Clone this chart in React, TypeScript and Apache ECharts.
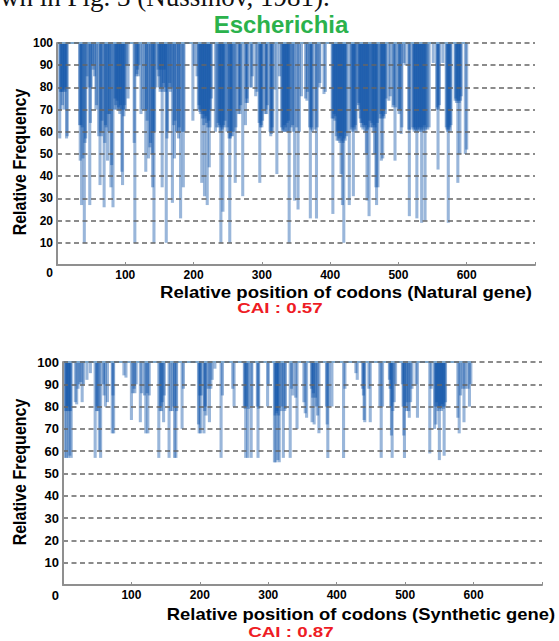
import React, { useEffect, useRef } from 'react';
import * as echarts from 'echarts';

// [codon position, relative frequency] for codons below 100 (natural gene)
const naturalCodons: [number, number][] = [
  [4,57],[5,78],[6,70],[7,78],[8,72],[9,78],[10,79],[11,70],[12,78],[13,80],[14,57],[15,58],
  [33,63],[34,47],[35,63],[36,27],[37,62],[38,48],
  [40,10],[41,55],[42,57],[44,85],[46,80],
  [48,27],[49,64],[50,80],[52,90],[53,88],[55,85],[57,70],[58,72],
  [61,58],[63,36],[64,60],[65,58],[66,65],
  [69,26],[70,55],[71,63],[72,62],[74,47],[75,68],[76,60],[77,68],
  [79,35],[80,45],[82,26],[84,70],
  [85,75],[86,72],[87,70],[88,74],[89,70],[90,71],[91,70],[92,68],[93,72],[94,70],[95,42],[96,36],[97,70],[98,67],[99,72],[100,70],
  [102,90],[104,75],
  [113,55],[114,10],[116,85],[117,86],[118,88],[119,85],[120,90],
  [123,68],[125,70],[128,70],[130,42],[131,70],[132,65],
  [134,48],[136,53],[137,55],[139,50],[140,35],[141,60],[142,10],[143,60],[145,80],
  [148,88],[149,85],[150,80],[151,78],[152,88],[153,80],[154,35],[155,78],[156,82],[157,88],[158,80],[159,78],
  [160,10],[161,57],[162,60],[164,80],[165,82],[166,78],[168,80],[169,28],
  [171,63],[172,48],[173,65],[175,60],[177,60],[178,57],[179,62],
  [181,21],[183,60],[185,35],[186,60],
  [199,65],[201,90],[205,85],[207,70],
  [208,72],[209,69],[210,68],[211,70],[212,37],[213,66],[214,68],[215,63],[216,31],[217,66],[218,67],[219,64],[220,27],[221,62],[222,65],[223,44],[224,62],[225,70],[226,75],
  [232,60],[234,62],
  [236,64],[237,62],[238,63],[239,60],[240,10],[241,62],[242,61],[243,24],[244,63],[245,62],[246,65],
  [249,60],[250,62],[252,57],[253,10],[254,57],[255,58],[256,60],[257,58],
  [259,60],[261,37],[262,62],
  [266,68],[267,70],[268,68],[269,72],[272,31],
  [276,63],[277,73],[278,75],[279,73],
  [283,80],[285,80],[286,85],[291,76],[293,78],
  [296,64],[297,37],[298,62],[299,63],[300,62],[301,65],
  [305,68],[306,70],[307,68],[308,72],
  [312,60],[313,58],[314,59],[315,62],[316,60],[319,79],[322,41],
  [326,85],[329,62],[330,60],[331,61],[332,60],[333,63],[334,60],[335,62],[336,60],[337,64],[338,60],[339,65],[340,10],[341,60],
  [343,62],[345,63],[346,60],[348,29],[351,62],[353,25],[355,60],[358,76],
  [364,75],[366,74],[367,78],
  [370,62],[371,21],[372,61],[373,62],[374,60],
  [378,61],[380,21],[381,62],[384,80],[385,82],
  [391,77],[393,78],
  [403,66],[404,23],[405,66],[406,68],[407,65],[408,67],
  [409,58],[410,56],[411,60],[412,56],[413,57],[414,55],[415,58],[416,41],[417,56],[418,27],[419,55],[420,10],[421,57],[422,56],[423,60],[424,58],
  [428,27],
  [431,61],[432,62],[433,60],[434,31],[435,62],[436,61],[437,63],[438,60],
  [441,72],[442,73],[443,70],
  [444,66],[445,64],[446,62],[447,64],[448,61],[449,63],[450,62],[451,60],[452,63],[453,50],[454,29],[455,61],[456,62],[457,22],[458,65],
  [460,62],[461,64],[462,62],[463,60],[464,63],[465,50],[466,62],[467,35],[468,27],[469,64],[470,35],
  [473,66],[474,68],[475,47],[476,66],[477,48],[478,67],[479,66],[480,70],[481,68],[482,75],
  [486,74],[488,76],
  [492,71],[493,72],[495,47],[496,71],
  [500,70],[501,68],[502,70],[504,59],[505,62],
  [508,91],[510,90],
  [515,61],[516,22],[517,61],
  [521,62],[522,61],[523,60],[524,62],[525,61],[526,60],[527,21],[528,61],[529,62],[530,60],[531,61],[532,62],[533,60],[534,19],[535,61],[536,62],[537,60],[538,63],[539,20],[540,61],[541,62],
  [543,61],[545,62],[551,91],
  [556,70],[557,71],[558,43],[559,70],[560,72],
  [565,91],
  [570,62],[571,61],[572,60],[573,19],[574,61],[575,62],[576,60],[577,63],
  [583,74],[584,75],[585,73],[586,74],[587,37],[588,74],[589,73],[590,50],[591,74],[592,76],
  [598,50],[600,52],
];

// [codon position, relative frequency] for codons below 100 (synthetic gene)
const syntheticCodons: [number, number][] = [
  [3,57],[4,78],[5,57],[6,78],[7,80],[8,57],[9,78],[10,58],[11,78],[12,57],
  [18,82],[20,81],[22,88],[24,90],[26,91],[28,82],[30,90],[35,92],[40,95],
  [47,57],[49,78],[50,80],[51,78],[53,60],[55,57],
  [59,90],[60,85],[62,80],[65,82],
  [72,68],[73,85],[74,68],
  [89,94],[92,93],
  [100,74],[102,86],[104,88],[105,86],[107,90],
  [113,73],[115,86],[119,85],[121,68],[123,86],[124,68],[126,85],
  [140,57],[142,78],[143,80],[144,78],[145,82],[147,73],[148,85],
  [155,57],[157,78],[160,78],[162,80],[163,57],[165,57],[166,78],
  [174,70],[176,88],
  [198,72],[199,68],[200,85],[201,68],[202,85],[206,68],[207,78],[208,80],[209,76],
  [212,88],[214,73],[216,88],[218,92],[222,97],
  [231,57],[233,85],[248,88],[250,80],
  [265,80],[266,79],[267,57],[268,80],[270,57],[271,79],[275,57],[276,80],
  [284,80],[285,57],[286,79],
  [299,80],[300,90],
  [309,55],[310,76],[311,55],[312,77],[313,78],[314,56],[315,76],[316,55],
  [319,78],[320,80],[322,57],[324,78],[325,79],
  [332,57],[334,88],[336,85],[340,84],[342,70],
  [352,82],[354,77],[356,75],
  [363,88],[364,73],[365,84],[366,86],[367,72],[369,84],[370,80],[372,76],[374,68],
  [385,80],[386,72],[387,57],[389,80],[393,80],
  [410,57],[412,88],[428,95],[430,92],
  [438,88],[439,85],[440,74],[441,73],[447,88],[449,73],
  [463,80],[465,57],[467,80],
  [477,92],[478,88],[479,80],[480,67],[481,57],[482,78],[484,82],[486,90],
  [496,90],[497,80],[498,67],[499,57],[500,80],[502,78],[503,82],[505,78],[506,75],[508,82],[510,88],
  [516,90],[518,75],[536,59],[538,88],
  [543,70],[544,80],[545,72],[546,82],[547,80],[548,78],[549,80],[550,56],[551,79],[552,80],[553,78],[554,81],[555,80],[556,79],[557,58],[558,80],[559,82],
  [577,75],[579,68],[581,85],[584,88],[586,73],[588,88],[592,88],[594,80],[596,90],
];

const naturalLength = 600;
const syntheticLength = 597;
const organism = 'Escherichia';
const naturalCAI = '0.57';
const syntheticCAI = '0.87';
const naturalTitle = 'Relative position of codons (Natural gene)';
const syntheticTitle = 'Relative position of codons (Synthetic gene)';
const yTitle = 'Relative Frequency';
const paperText = 'wn in Fig. 3 (Nussinov, 1981).';

const FONT = '"Liberation Sans", Arial, sans-serif';
const BAR_FILL = 'rgba(12,80,168,0.42)';

function renderHang(_params: any, api: any) {
  const x = api.value(0);
  const v = api.value(1);
  const top = api.coord([x, 100]);
  const bot = api.coord([x, v]);
  const w = api.size([1, 0])[0] * 4.5;
  return {
    type: 'rect',
    shape: { x: top[0] - w / 2, y: top[1], width: w, height: bot[1] - top[1] },
    style: { fill: BAR_FILL },
  };
}

function xAxisFor(gridIndex: number, fontSize: number) {
  return {
    gridIndex,
    type: 'value',
    min: 0,
    max: 700,
    interval: 100,
    z: 6,
    axisLine: { show: true, onZero: false, lineStyle: { color: '#8f8f8f', width: 2 } },
    axisTick: { show: true, inside: true, length: 3, lineStyle: { color: '#8f8f8f' } },
    axisLabel: {
      margin: 4,
      fontSize,
      fontWeight: 'bold',
      color: '#000',
      fontFamily: FONT,
      formatter: (v: number) => (v === 0 || v === 700 ? '' : String(v)),
    },
    splitLine: { show: false },
  };
}

function yAxisFor(gridIndex: number, fontSize: number, zeroShift: number, margin: number) {
  return {
    gridIndex,
    type: 'value',
    min: 0,
    max: 100,
    interval: 10,
    z: 5,
    axisLine: { show: true, lineStyle: { color: '#8f8f8f', width: 2 } },
    axisTick: { show: false },
    axisLabel: {
      margin,
      fontSize,
      fontWeight: 'bold',
      color: '#000',
      fontFamily: FONT,
      formatter: (v: number) => (v === 0 ? '{z|0}' : String(v)),
      rich: {
        z: { padding: [zeroShift * 2, 0, 0, 0], fontSize, fontWeight: 'bold', color: '#000', fontFamily: FONT },
      },
    },
    splitLine: { show: true, lineStyle: { color: '#666', width: 1.6, type: [5, 3.5] } },
  };
}

export default function App() {
  const ref = useRef<HTMLDivElement>(null);
  useEffect(() => {
    const chart = echarts.init(ref.current!, null, { renderer: 'svg' });
    const option: any = {
      animation: false,
      backgroundColor: '#fff',
      grid: [
        { left: 57, right: 24, top: 43, height: 222 },
        { left: 63, right: 17, top: 362, height: 223 },
      ],
      xAxis: [xAxisFor(0, 12), xAxisFor(1, 12)],
      yAxis: [yAxisFor(0, 12, 8, 4), yAxisFor(1, 13, 10, 4)],
      series: [
        {
          type: 'custom', xAxisIndex: 0, yAxisIndex: 0, renderItem: renderHang,
          encode: { x: 0, y: 1 }, data: naturalCodons, z: 2,
        },
        {
          type: 'line', xAxisIndex: 0, yAxisIndex: 0, showSymbol: false, silent: true,
          data: [[1, 100], [naturalLength, 100]], lineStyle: { color: '#7fa8cc', width: 2 }, z: 3,
        },
        {
          type: 'custom', xAxisIndex: 1, yAxisIndex: 1, renderItem: renderHang,
          encode: { x: 0, y: 1 }, data: syntheticCodons, z: 2,
        },
        {
          type: 'line', xAxisIndex: 1, yAxisIndex: 1, showSymbol: false, silent: true,
          data: [[1, 100], [syntheticLength, 100]], lineStyle: { color: '#7fa8cc', width: 2 }, z: 3,
        },
      ],
      graphic: [
        { type: 'text', x: 0, y: -3, style: { text: paperText, fontSize: 27, fontFamily: '"Liberation Serif", "Times New Roman", serif', fill: '#111', align: 'left', verticalAlign: 'middle' } },
        { type: 'text', x: 281, y: 24, style: { text: organism, fontSize: 24, fontWeight: 'bold', fontFamily: FONT, fill: '#2bb24c', align: 'center', verticalAlign: 'middle' } },
        { type: 'text', x: 20, y: 162, rotation: Math.PI / 2, scaleY: 1.15, style: { text: yTitle, fontSize: 16, fontWeight: 'bold', fontFamily: FONT, fill: '#000', align: 'center', verticalAlign: 'middle' } },
        { type: 'text', x: 346, y: 292, scaleX: 1.16, style: { text: naturalTitle, fontSize: 16, fontWeight: 'bold', fontFamily: FONT, fill: '#000', align: 'center', verticalAlign: 'middle' } },
        { type: 'text', x: 280, y: 308, scaleX: 1.25, style: { text: 'CAI : ' + naturalCAI, fontSize: 15, fontWeight: 'bold', fontFamily: FONT, fill: '#ee1c24', align: 'center', verticalAlign: 'middle' } },
        { type: 'text', x: 20, y: 472, rotation: Math.PI / 2, scaleY: 1.15, style: { text: yTitle, fontSize: 16, fontWeight: 'bold', fontFamily: FONT, fill: '#000', align: 'center', verticalAlign: 'middle' } },
        { type: 'text', x: 361, y: 614, scaleX: 1.15, style: { text: syntheticTitle, fontSize: 16, fontWeight: 'bold', fontFamily: FONT, fill: '#000', align: 'center', verticalAlign: 'middle' } },
        { type: 'text', x: 291, y: 632, scaleX: 1.25, style: { text: 'CAI : ' + syntheticCAI, fontSize: 15, fontWeight: 'bold', fontFamily: FONT, fill: '#ee1c24', align: 'center', verticalAlign: 'middle' } },
      ],
    };
    chart.setOption(option);
    return () => chart.dispose();
  }, []);
  return (
    <div
      ref={ref}
      style={{ position: 'absolute', left: 0, top: 0, width: 559, height: 641, background: '#fff' }}
    />
  );
}
